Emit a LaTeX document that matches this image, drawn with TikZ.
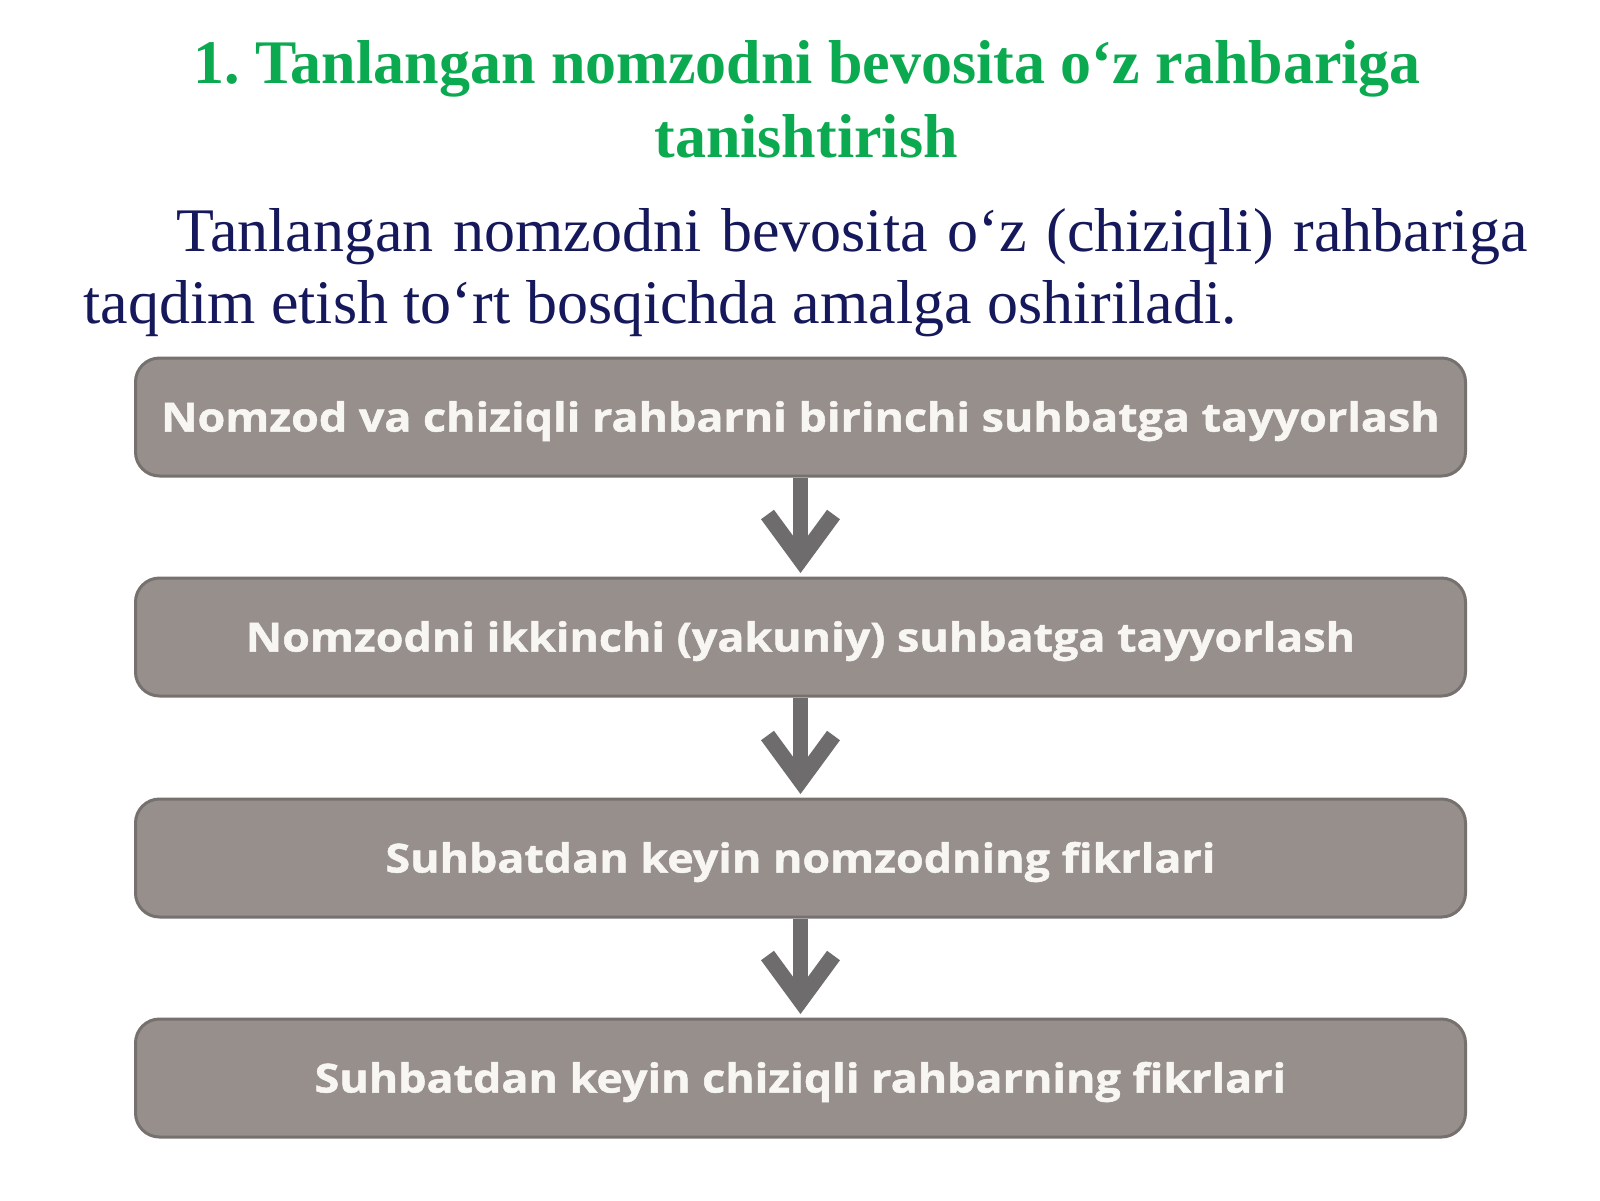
\documentclass[tikz,border=0pt]{standalone}
\usepackage{fontspec}
\setmainfont{Liberation Serif}
\newfontfamily\boxfont{Open Sans}[BoldFeatures={FakeStretch=1.12,FakeBold=1.2}]
\usetikzlibrary{calc}
\frenchspacing
\definecolor{titlegreen}{RGB}{12,170,80}
\definecolor{bodynavy}{RGB}{22,24,92}
\definecolor{boxfill}{RGB}{151,143,139}
\definecolor{boxedge}{RGB}{118,113,111}
\definecolor{arrowgray}{RGB}{110,108,108}
\definecolor{boxtext}{RGB}{248,246,243}
\tikzset{
  stepbox/.style={draw=boxedge, line width=1.5pt, fill=boxfill, rounded corners=12pt,
    minimum width=665pt, minimum height=59pt, inner sep=0pt,
    text height=14.5pt, text depth=0pt, text=boxtext,
    font=\boxfont\bfseries\fontsize{20}{23}\selectfont},
  titletext/.style={text=titlegreen, font=\bfseries\fontsize{31}{36}\selectfont, anchor=base, inner sep=0pt},
  bodytext/.style={text=bodynavy, font=\fontsize{31}{36}\selectfont, anchor=base west, inner sep=0pt},
  flowline/.style={draw=arrowgray, line width=7.5pt, line cap=butt},
  chevron/.style={draw=arrowgray, line width=8pt, line cap=butt, line join=miter}
}
\begin{document}
\begin{tikzpicture}[x=0.5pt,y=-0.5pt]
\useasboundingbox[fill=white] (0,0) rectangle (1600,1200);
% title
\node[titletext] (t1) at (807,83) {1. Tanlangan nomzodni bevosita o‘z rahbariga};
\node[titletext] (t2) at (806,157) {tanishtirish};
% body
\node[bodytext] (p1) at (176,251) {\makebox[675.5pt][s]{Tanlangan nomzodni bevosita o‘z (chiziqli) rahbariga}};
\node[bodytext] (p2) at (83,323) {taqdim etish to‘rt bosqichda amalga oshiriladi.};
% boxes
\node[stepbox] (b1) at (800.5,417) {Nomzod va chiziqli rahbarni birinchi suhbatga tayyorlash};
\node[stepbox] (b2) at (800.5,637) {Nomzodni ikkinchi (yakuniy) suhbatga tayyorlash};
\node[stepbox] (b3) at (800.5,858) {Suhbatdan keyin nomzodning fikrlari};
\node[stepbox] (b4) at (800.5,1078) {Suhbatdan keyin chiziqli rahbarning fikrlari};
% arrows
\foreach \a/\b in {b1/b2,b2/b3,b3/b4}{
  \coordinate (v\b) at ($(\b.north)+(0,-17)$);
  \draw[flowline] (\a.south) -- (v\b);
  \draw[chevron] ($(v\b)+(-33,-45)$) -- (v\b) -- ($(v\b)+(33,-45)$);
}
\end{tikzpicture}
\end{document}
